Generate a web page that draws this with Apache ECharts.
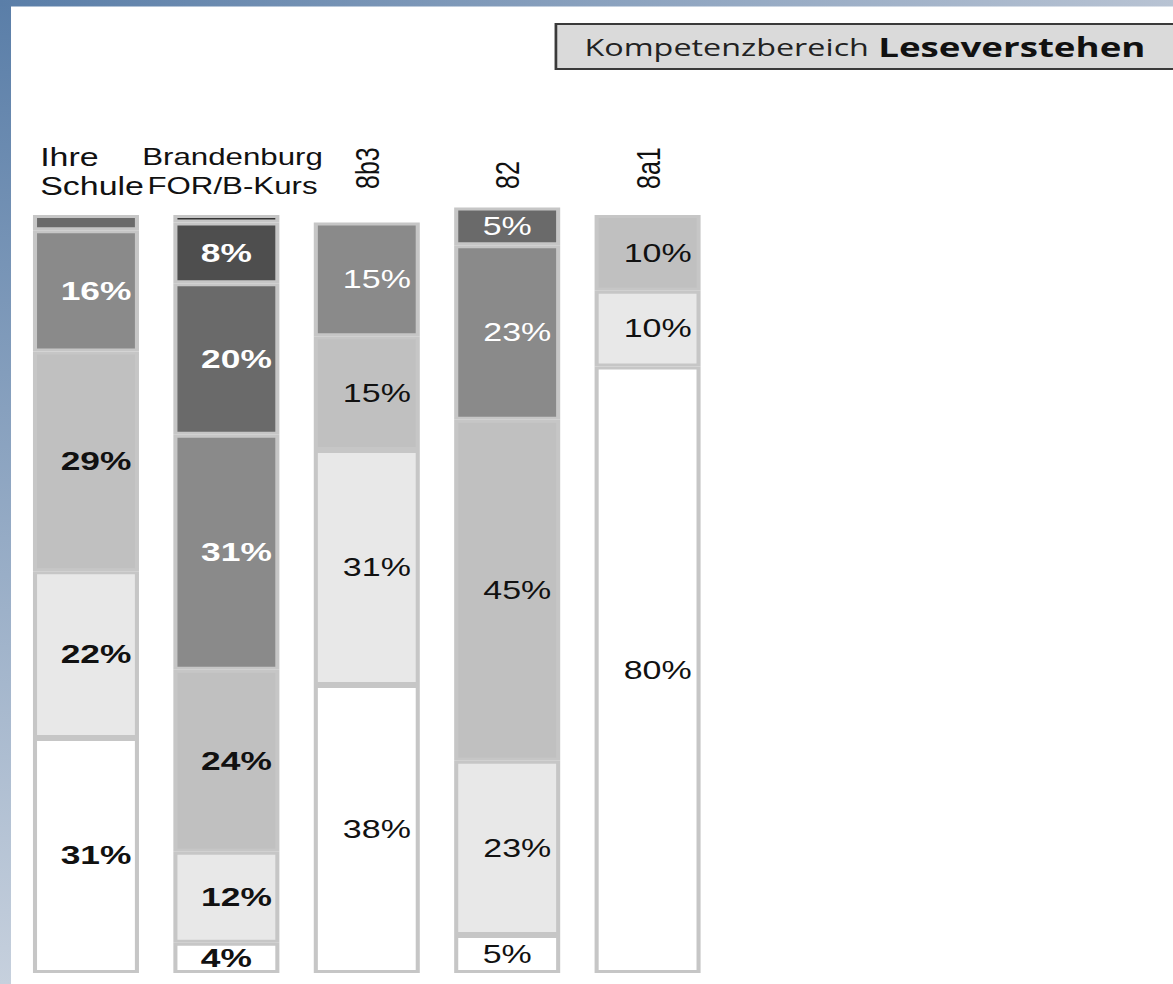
<!DOCTYPE html>
<html>
<head>
<meta charset="utf-8">
<script src="https://cdn.jsdelivr.net/npm/echarts@6/dist/echarts.min.js"></script>
<style>
  html, body { margin: 0; padding: 0; background: #ffffff; overflow: hidden; }
  #wrap { width: 1173px; height: 984px; overflow: hidden; position: relative; }
  /* the chart is laid out in a narrower box and widened horizontally */
  #chart { width: 863px; height: 984px; transform: scaleX(1.3592); transform-origin: 0 0; }
</style>
</head>
<body>
<div id="wrap"><div id="chart"></div></div>
<script>
// Groups shown as columns
const categories = ['Ihre\nSchule', 'Brandenburg\nFOR/B-Kurs', '8b3', '82', '8a1'];

// Share of students per level (%), lowest level first, one value per column
const niveau1 = [31, 4, 38, 5, 80];
const niveau2 = [22, 12, 31, 23, 10];
const niveau3 = [29, 24, 15, 45, 10];
const niveau4 = [16, 31, 15, 23, 0];
const niveau5 = [2, 20, 0, 5, 0];
const niveau6 = [0, 8, 0, 0, 0];
const niveau7 = [0, 1, 0, 0, 0];

const titleRegular = 'Kompetenzbereich';
const titleBold = 'Leseverstehen';

const levels = [niveau1, niveau2, niveau3, niveau4, niveau5, niveau6, niveau7];
const shades = ['#ffffff', '#e8e8e8', '#c0c0c0', '#8a8a8a', '#6a6a6a', '#4e4e4e', '#333333'];
const FONT = '"Liberation Sans", Arial, sans-serif';

const chart = echarts.init(document.getElementById('chart'), null, { renderer: 'svg' });

const series = levels.map((values, li) => ({
  type: 'bar',
  stack: 'gesamt',
  barWidth: 78,
  clip: false,
  xAxisIndex: 0,
  itemStyle: { color: shades[li], borderColor: '#c6c6c6', borderWidth: 3 },
  data: values.map((v, ci) => v === 0 ? '-' : {
    value: v,
    label: {
      show: v >= 3,
      position: 'inside',
      offset: [v >= 10 ? 7.4 : 0, 0],
      formatter: '{c}%',
      fontFamily: FONT,
      fontWeight: ci < 2 ? 'bold' : 'normal',
      fontSize: ci < 2 ? 26 : 25,
      color: li >= 3 ? '#ffffff' : '#111111'
    }
  })
}));

const option = {
  backgroundColor: '#ffffff',
  animation: false,
  grid: { left: 11.6, right: 334.9, top: 215, bottom: 11, containLabel: false },
  xAxis: [
    {
      type: 'category',
      data: categories,
      position: 'top',
      axisLine: { show: false },
      axisTick: { show: false },
      axisLabel: {
        interval: 0,
        margin: 14,
        padding: [0, 0, 0, 9],
        formatter: (v, i) => {
          if (i > 1) return '';
          const key = i === 0 ? 's' : 't';
          return v.split('\n').map(l => '{' + key + '|' + l + '}').join('\n');
        },
        rich: {
          s: { fontFamily: FONT, fontSize: 25, lineHeight: 29, color: '#111111', align: 'left' },
          t: { fontFamily: FONT, fontSize: 23, lineHeight: 29, color: '#111111', align: 'center' }
        }
      }
    },
    {
      type: 'category',
      data: categories,
      position: 'top',
      axisLine: { show: false },
      axisTick: { show: false },
      axisLabel: {
        interval: 0,
        rotate: -90,
        margin: 26,
        fontFamily: FONT,
        fontSize: 25,
        color: '#111111',
        formatter: (v, i) => i > 1 ? v : ''
      }
    }
  ],
  yAxis: { type: 'value', min: 0, max: 100, show: false },
  series: series,
  graphic: [
    {
      type: 'rect', silent: true, z: 0,
      shape: { x: 0, y: 0, width: 8.1, height: 984 },
      style: { fill: new echarts.graphic.LinearGradient(0, 0, 0, 1, [
        { offset: 0, color: '#5a7ea8' }, { offset: 1, color: '#c6d0dd' }
      ]) }
    },
    {
      type: 'rect', silent: true, z: 0,
      shape: { x: 0, y: 0, width: 863, height: 6.5 },
      style: { fill: new echarts.graphic.LinearGradient(0, 0, 1, 0, [
        { offset: 0, color: '#5a7ea8' }, { offset: 1, color: '#b8c3d3' }
      ]) }
    },
    {
      type: 'line', silent: true, z: 100,
      shape: { x1: 3.7, y1: 358.5, x2: 863, y2: 358.5 },
      style: { lineWidth: 1, stroke: new echarts.graphic.LinearGradient(0, 0, 1, 0, [
        { offset: 0, color: '#b4bfd0' }, { offset: 1, color: '#e6e8ee' }
      ]) }
    },
    {
      type: 'rect', silent: true, z: 5,
      shape: { x: 409, y: 24, width: 470, height: 45 },
      style: { fill: '#dadada', stroke: '#3a3a3a', lineWidth: 2 }
    },
    {
      type: 'text', silent: true, z: 6,
      x: 430, y: 46.5,
      style: {
        text: '{r|' + titleRegular + '}  {b|' + titleBold + '}',
        verticalAlign: 'middle',
        align: 'left',
        rich: {
          r: { fontFamily: '"Open Sans", sans-serif', fontSize: 23.8, fill: '#222222' },
          b: { fontFamily: '"Open Sans", sans-serif', fontSize: 27, fontWeight: 'bold', fill: '#111111' }
        }
      }
    }
  ]
};

chart.setOption(option);
</script>
</body>
</html>
